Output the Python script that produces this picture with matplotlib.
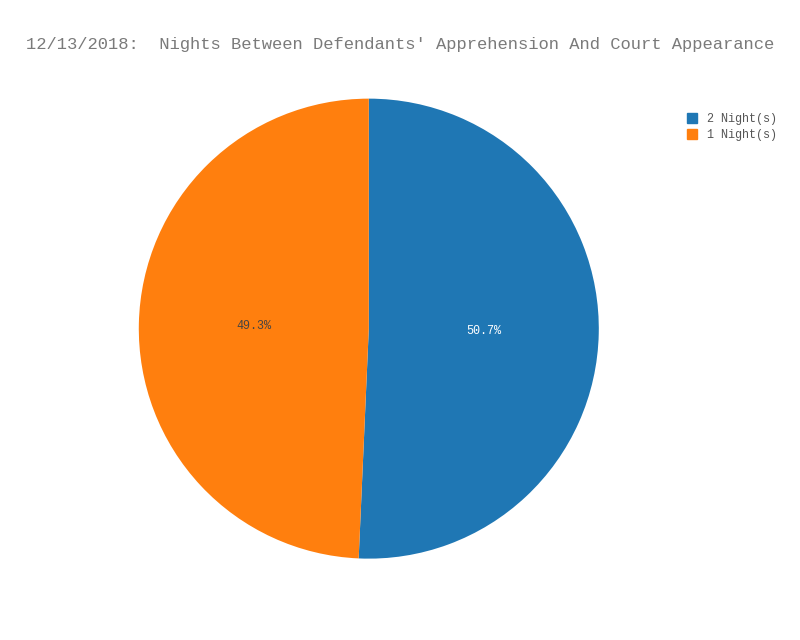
import matplotlib
matplotlib.use("Agg")
import matplotlib.pyplot as plt
from matplotlib.patches import Patch

labels = ["2 Night(s)", "1 Night(s)"]
values = [50.7, 49.3]
colors = ["#1f77b4", "#ff7f0e"]
title = "12/13/2018:  Nights Between Defendants' Apprehension And Court Appearance"

plt.rcParams["font.family"] = "Liberation Mono"
fig = plt.figure(figsize=(8, 6.4), dpi=100)
ax = fig.add_axes([0.461 - 0.2875, 0.486 - 0.359, 0.575, 0.719])
wedges, texts, autotexts = ax.pie(values, colors=colors, startangle=90, counterclock=False,
                                  autopct="%.1f%%", pctdistance=0.5,
                                  textprops=dict(fontsize=8.5))
autotexts[0].set_color("white")
autotexts[1].set_color("#444444")
ax.set_xlim(-1, 1)
ax.set_ylim(-1, 1)
ax.set_aspect("equal")
fig.text(0.5, 0.93, title, ha="center", va="center", fontsize=12.3, color="#7a7a7a")
handles = [Patch(color=c) for c in colors]
leg = fig.legend(handles, labels, loc="upper left", bbox_to_anchor=(0.845, 0.84),
                 frameon=False, fontsize=8.5, handlelength=0.9, handleheight=0.9,
                 labelspacing=0.35)
for t in leg.get_texts():
    t.set_color("#555555")
fig.savefig("out.png", dpi=100)
